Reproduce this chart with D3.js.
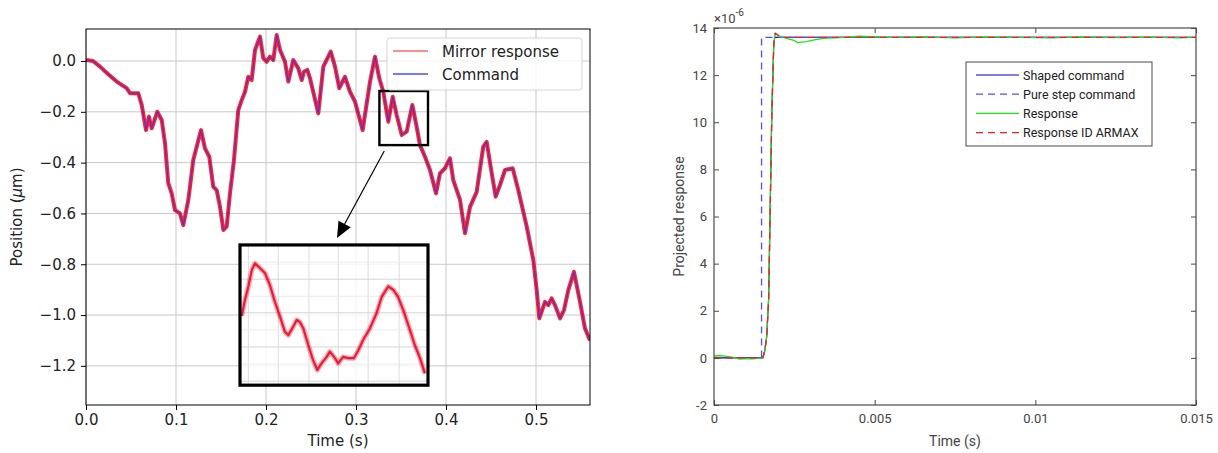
<!DOCTYPE html>
<html>
<head>
<meta charset="utf-8">
<script src="https://cdn.jsdelivr.net/npm/d3@7"></script>
<style>
body { margin: 0; background: #fff; }
</style>
</head>
<body>
<svg id="chart" width="1218" height="453"></svg>
<script>
// ---- left panel: mirror position tracking ----
var posTime = [
  0.000, 0.0078, 0.0156, 0.0244, 0.0341, 0.0452, 0.0489, 0.0581, 0.0619, 0.0667,
  0.0700, 0.0730, 0.0792, 0.0841, 0.0878, 0.0914, 0.0952, 0.0989, 0.1044, 0.1081,
  0.1137, 0.1192, 0.1278, 0.1322, 0.1370, 0.1414, 0.1452, 0.1489, 0.1526, 0.1563,
  0.1600, 0.1644, 0.1692, 0.1730, 0.1767, 0.1803, 0.1841, 0.1878, 0.1933, 0.1970,
  0.2008, 0.2044, 0.2081, 0.2119, 0.2156, 0.2211, 0.2248, 0.2303, 0.2359, 0.2397,
  0.2422, 0.2459, 0.2489, 0.2581, 0.2637, 0.2719, 0.2767, 0.2814, 0.2878, 0.2933,
  0.2989, 0.3074, 0.3156, 0.3211, 0.3259, 0.3303, 0.3359, 0.3408, 0.3452, 0.3508,
  0.3563, 0.3626, 0.3674, 0.3711, 0.3767, 0.3822, 0.3889, 0.3933, 0.3989, 0.4044,
  0.4081, 0.4156, 0.4211, 0.4267, 0.4341, 0.4414, 0.4452, 0.4508, 0.4552, 0.4600,
  0.4656, 0.4741, 0.4803, 0.4897, 0.4970, 0.5008, 0.5037, 0.5100, 0.5137, 0.5174,
  0.5211, 0.5267, 0.5311, 0.5359, 0.5422, 0.5489, 0.5544, 0.5600
];
var posValue = [
  0.004, 0.000, -0.022, -0.051, -0.081, -0.107, -0.127, -0.127, -0.173, -0.272,
  -0.219, -0.265, -0.200, -0.232, -0.324, -0.481, -0.521, -0.587, -0.600, -0.646,
  -0.547, -0.390, -0.272, -0.344, -0.377, -0.495, -0.508, -0.574, -0.665, -0.652,
  -0.521, -0.390, -0.193, -0.154, -0.121, -0.062, -0.075, 0.043, 0.096, 0.011,
  -0.003, 0.017, 0.004, 0.102, 0.043, -0.003, -0.081, 0.004, -0.029, -0.075,
  -0.042, -0.035, -0.068, -0.206, -0.022, 0.037, -0.022, -0.107, -0.062, -0.121,
  -0.160, -0.272, -0.081, 0.017, -0.068, -0.121, -0.239, -0.141, -0.213, -0.291,
  -0.278, -0.173, -0.259, -0.331, -0.377, -0.429, -0.521, -0.442, -0.422, -0.383,
  -0.469, -0.547, -0.678, -0.574, -0.515, -0.337, -0.318, -0.442, -0.534, -0.488,
  -0.429, -0.422, -0.508, -0.652, -0.783, -0.902, -1.013, -0.948, -0.961, -0.934,
  -0.961, -1.013, -0.980, -0.902, -0.830, -0.948, -1.052, -1.100
];
// zoomed inset (time window 0.326 - 0.380 s)
var insetTime = [
  0.3265, 0.3274, 0.3284, 0.3294, 0.3303, 0.3317, 0.3332, 0.3346, 0.3360, 0.3375,
  0.3389, 0.3399, 0.3413, 0.3423, 0.3432, 0.3442, 0.3456, 0.3470, 0.3482, 0.3494,
  0.3509, 0.3518, 0.3533, 0.3542, 0.3556, 0.3571, 0.3587, 0.3600, 0.3614, 0.3633,
  0.3652, 0.3667, 0.3686, 0.3700, 0.3714, 0.3729, 0.3748, 0.3762, 0.3777, 0.3791
];
var insetValue = [
  -0.226, -0.202, -0.181, -0.156, -0.146, -0.153, -0.161, -0.179, -0.204, -0.227,
  -0.250, -0.255, -0.242, -0.232, -0.235, -0.245, -0.270, -0.293, -0.308, -0.298,
  -0.288, -0.280, -0.290, -0.298, -0.288, -0.290, -0.290, -0.278, -0.262, -0.245,
  -0.222, -0.197, -0.181, -0.186, -0.197, -0.217, -0.247, -0.270, -0.290, -0.313
];
var leftXTicks = [0.0, 0.1, 0.2, 0.3, 0.4, 0.5];
var leftYTicks = [0.0, -0.2, -0.4, -0.6, -0.8, -1.0, -1.2];
var insetXGrid = [0.3284, 0.3370, 0.3458, 0.3542, 0.3628, 0.3717];
var insetYGrid = [-0.144, -0.170, -0.196, -0.221, -0.247, -0.273, -0.299, -0.325];
var leftLegend = ["Mirror response", "Command"];

// ---- right panel: step response ----
var stepTime = [0, 0.00148, 0.00148, 0.015];
var stepValue = [0, 0, 13.6, 13.6];
var shapedTime = [0, 0.00152, 0.00158, 0.00164, 0.00170, 0.00175, 0.00180, 0.00186, 0.00189, 0.015];
var shapedValue = [0, 0, 0.3, 0.9, 2.5, 6.5, 10.5, 13.3, 13.6, 13.6];
var respTime = [0, 0.0002, 0.0004, 0.0006, 0.0008, 0.0010, 0.0012, 0.00152, 0.00158, 0.00164,
  0.00170, 0.00175, 0.00180, 0.00186, 0.00191, 0.00204, 0.00225, 0.00246, 0.00261, 0.00288,
  0.00308, 0.00339, 0.00391, 0.00453, 0.0055, 0.0065, 0.0075, 0.0085, 0.0095, 0.0105,
  0.0115, 0.0125, 0.0135, 0.0145, 0.015];
var respValue = [0.08, 0.1, 0.06, 0.02, -0.05, -0.03, -0.04, 0, 0.3, 0.9,
  2.5, 6.5, 10.5, 13.3, 13.78, 13.66, 13.56, 13.49, 13.38, 13.42,
  13.49, 13.56, 13.59, 13.65, 13.6, 13.62, 13.58, 13.62, 13.6, 13.58,
  13.62, 13.59, 13.61, 13.58, 13.6];
var armaxTime = [0, 0.00152, 0.00158, 0.00164, 0.00170, 0.00175, 0.00180, 0.00186, 0.00190, 0.00200, 0.00215, 0.015];
var armaxValue = [0, 0, 0.3, 0.9, 2.4, 6.3, 10.3, 13.3, 13.78, 13.68, 13.6, 13.6];
var rightXTicks = [0, 0.005, 0.01, 0.015];
var rightYTicks = [-2, 0, 2, 4, 6, 8, 10, 12, 14];
var rightLegend = ["Shaped command", "Pure step command", "Response", "Response ID ARMAX"];

function zip(a, b) { return a.map(function(t, i) { return [t, b[i]]; }); }

var svg = d3.select("#chart");
var defs = svg.append("defs");

// ================= left panel =================
var L = {left: 86, right: 590, top: 29, bottom: 405};
var xL = d3.scaleLinear().domain([0, 0.56]).range([L.left, L.right]);
var yL = d3.scaleLinear().domain([-1.354, 0.126]).range([L.bottom, L.top]);
var fontL = "DejaVu Sans, sans-serif";

defs.append("clipPath").attr("id", "clipL").append("rect")
  .attr("x", L.left).attr("y", L.top).attr("width", L.right - L.left).attr("height", L.bottom - L.top);

var gL = svg.append("g");

gL.selectAll(".vgl").data(leftXTicks).enter().append("line")
  .attr("x1", function(d) { return xL(d); }).attr("x2", function(d) { return xL(d); })
  .attr("y1", L.top).attr("y2", L.bottom)
  .attr("stroke", "#c8c8c8").attr("stroke-width", 1);
gL.selectAll(".hgl").data(leftYTicks).enter().append("line")
  .attr("x1", L.left).attr("x2", L.right)
  .attr("y1", function(d) { return yL(d); }).attr("y2", function(d) { return yL(d); })
  .attr("stroke", "#c8c8c8").attr("stroke-width", 1);

var lineL = d3.line().x(function(d) { return xL(d[0]); }).y(function(d) { return yL(d[1]); });
var posData = zip(posTime, posValue);

var plotL = gL.append("g").attr("clip-path", "url(#clipL)");
plotL.append("path").datum(posData).attr("d", lineL)
  .attr("fill", "none").attr("stroke", "#ff0000").attr("stroke-width", 4)
  .attr("stroke-opacity", 0.85).attr("stroke-linejoin", "round");
plotL.append("path").datum(posData).attr("d", lineL)
  .attr("fill", "none").attr("stroke", "#3a2cff").attr("stroke-width", 1.1)
  .attr("stroke-opacity", 0.85).attr("stroke-linejoin", "round");

// small zoom box
gL.append("rect")
  .attr("x", xL(0.326)).attr("y", yL(-0.118))
  .attr("width", xL(0.380) - xL(0.326)).attr("height", yL(-0.331) - yL(-0.118))
  .attr("fill", "none").attr("stroke", "#000").attr("stroke-width", 2.4);

// arrow to inset
var a0 = [xL(0.3314), yL(-0.354)], a1 = [xL(0.2789), yL(-0.697)];
var ang = Math.atan2(a1[1] - a0[1], a1[0] - a0[0]);
var headLen = 16, headW = 7;
var base = [a1[0] - headLen * Math.cos(ang), a1[1] - headLen * Math.sin(ang)];
gL.append("line")
  .attr("x1", a0[0]).attr("y1", a0[1]).attr("x2", base[0]).attr("y2", base[1])
  .attr("stroke", "#000").attr("stroke-width", 1.2);
gL.append("path")
  .attr("d", "M" + a1[0] + "," + a1[1] +
    "L" + (base[0] + headW * Math.sin(ang)) + "," + (base[1] - headW * Math.cos(ang)) +
    "L" + (base[0] - headW * Math.sin(ang)) + "," + (base[1] + headW * Math.cos(ang)) + "Z")
  .attr("fill", "#000");

// inset
var ix0 = xL(0.1711), ix1 = xL(0.380), iy0 = yL(-0.724), iy1 = yL(-1.276);
var xI = d3.scaleLinear().domain([0.326, 0.380]).range([ix0, ix1]);
var yI = d3.scaleLinear().domain([-0.331, -0.118]).range([iy1, iy0]);
defs.append("clipPath").attr("id", "clipI").append("rect")
  .attr("x", ix0).attr("y", iy0).attr("width", ix1 - ix0).attr("height", iy1 - iy0);
var gI = gL.append("g");
gI.append("rect").attr("x", ix0).attr("y", iy0).attr("width", ix1 - ix0).attr("height", iy1 - iy0)
  .attr("fill", "#fff").attr("fill-opacity", 0.8);
gI.selectAll(".vgi").data(insetXGrid).enter().append("line")
  .attr("x1", function(d) { return xI(d); }).attr("x2", function(d) { return xI(d); })
  .attr("y1", iy0).attr("y2", iy1)
  .attr("stroke", "#dcdcdc").attr("stroke-width", 1);
gI.selectAll(".hgi").data(insetYGrid).enter().append("line")
  .attr("x1", ix0).attr("x2", ix1)
  .attr("y1", function(d) { return yI(d); }).attr("y2", function(d) { return yI(d); })
  .attr("stroke", function(d, i) { return i % 2 ? "#d4d4d4" : "#ececec"; }).attr("stroke-width", 1);
var lineI = d3.line().x(function(d) { return xI(d[0]); }).y(function(d) { return yI(d[1]); });
var insetData = zip(insetTime, insetValue);
var plotI = gI.append("g").attr("clip-path", "url(#clipI)");
plotI.append("path").datum(insetData).attr("d", lineI)
  .attr("fill", "none").attr("stroke", "#ff0000").attr("stroke-width", 5)
  .attr("stroke-opacity", 0.35).attr("stroke-linejoin", "round");
plotI.append("path").datum(insetData).attr("d", lineI)
  .attr("fill", "none").attr("stroke", "#ff0000").attr("stroke-width", 2.2)
  .attr("stroke-opacity", 0.85).attr("stroke-linejoin", "round");
plotI.append("path").datum(insetData).attr("d", lineI)
  .attr("fill", "none").attr("stroke", "#6a3cff").attr("stroke-width", 0.8)
  .attr("stroke-opacity", 0.6);
gI.append("rect").attr("x", ix0).attr("y", iy0).attr("width", ix1 - ix0).attr("height", iy1 - iy0)
  .attr("fill", "none").attr("stroke", "#000").attr("stroke-width", 3.2);

// axes
var axL = gL.append("g").attr("transform", "translate(0," + L.bottom + ")")
  .call(d3.axisBottom(xL).tickValues(leftXTicks).tickFormat(d3.format(".1f")).tickSize(5).tickPadding(4));
var ayL = gL.append("g").attr("transform", "translate(" + L.left + ",0)")
  .call(d3.axisLeft(yL).tickValues(leftYTicks).tickFormat(d3.format(".1f")).tickSize(5).tickPadding(5));
[axL, ayL].forEach(function(a) {
  a.select(".domain").remove();
  a.selectAll("text").attr("font-family", fontL).attr("font-size", 15).attr("fill", "#222");
  a.selectAll("line").attr("stroke", "#000");
});
gL.append("rect").attr("x", L.left).attr("y", L.top)
  .attr("width", L.right - L.left).attr("height", L.bottom - L.top)
  .attr("fill", "none").attr("stroke", "#000").attr("stroke-width", 1);

gL.append("text").attr("x", (L.left + L.right) / 2).attr("y", 446)
  .attr("text-anchor", "middle").attr("font-family", fontL).attr("font-size", 15).attr("fill", "#222")
  .text("Time (s)");
var yLab = gL.append("text").attr("transform", "translate(22," + ((L.top + L.bottom) / 2) + ") rotate(-90)")
  .attr("text-anchor", "middle").attr("font-family", fontL).attr("font-size", 15).attr("fill", "#222");
yLab.append("tspan").text("Position (");
yLab.append("tspan").attr("font-style", "italic").text("\u03bc");
yLab.append("tspan").text("m)");

// legend
var lgL = gL.append("g");
lgL.append("rect").attr("x", 387).attr("y", 38).attr("width", 195).attr("height", 52).attr("rx", 3)
  .attr("fill", "#fff").attr("fill-opacity", 0.8).attr("stroke", "#d6d6d6");
var lgColors = ["#ff6a6a", "#4a4aff"];
lgL.selectAll(".li").data(leftLegend).enter().append("line")
  .attr("x1", 393).attr("x2", 428)
  .attr("y1", function(d, i) { return 51 + i * 23; }).attr("y2", function(d, i) { return 51 + i * 23; })
  .attr("stroke", function(d, i) { return lgColors[i]; }).attr("stroke-width", 1.3);
lgL.selectAll(".lt").data(leftLegend).enter().append("text")
  .attr("x", 442).attr("y", function(d, i) { return 56.5 + i * 23; })
  .attr("font-family", fontL).attr("font-size", 15).attr("fill", "#222")
  .text(function(d) { return d; });

// ================= right panel =================
var R = {left: 714, right: 1196, top: 28, bottom: 405};
var xR = d3.scaleLinear().domain([0, 0.015]).range([R.left, R.right]);
var yR = d3.scaleLinear().domain([-2, 14]).range([R.bottom, R.top]);
var fontR = "Roboto, Liberation Sans, sans-serif";
var axisCol = "#4a4a4a";

defs.append("clipPath").attr("id", "clipR").append("rect")
  .attr("x", R.left).attr("y", R.top).attr("width", R.right - R.left).attr("height", R.bottom - R.top);

var gR = svg.append("g");
var lineR = d3.line().x(function(d) { return xR(d[0]); }).y(function(d) { return yR(d[1]); });
var plotR = gR.append("g").attr("clip-path", "url(#clipR)");

var seriesR = [
  {data: zip(shapedTime, shapedValue), color: "#0000d0", dash: null, w: 1.2},
  {data: zip(stepTime, stepValue), color: "#4f4fff", dash: "7,5", w: 1.3},
  {data: zip(respTime, respValue), color: "#19e619", dash: null, w: 1.3},
  {data: zip(armaxTime, armaxValue), color: "#ff1a1a", dash: "7,5", w: 1.3}
];
seriesR.forEach(function(s) {
  plotR.append("path").datum(s.data).attr("d", lineR)
    .attr("fill", "none").attr("stroke", s.color).attr("stroke-width", s.w)
    .attr("stroke-dasharray", s.dash).attr("stroke-linejoin", "round");
});

var axRb = gR.append("g").attr("transform", "translate(0," + R.bottom + ")")
  .call(d3.axisBottom(xR).tickValues(rightXTicks).tickFormat(function(d) { return String(d); }).tickSize(-5).tickPadding(9));
var axRt = gR.append("g").attr("transform", "translate(0," + R.top + ")")
  .call(d3.axisTop(xR).tickValues(rightXTicks).tickFormat("").tickSize(-5));
var ayRl = gR.append("g").attr("transform", "translate(" + R.left + ",0)")
  .call(d3.axisLeft(yR).tickValues(rightYTicks).tickFormat(function(d) { return String(d); }).tickSize(-5).tickPadding(7));
var ayRr = gR.append("g").attr("transform", "translate(" + R.right + ",0)")
  .call(d3.axisRight(yR).tickValues(rightYTicks).tickFormat("").tickSize(-5));
[axRb, axRt, ayRl, ayRr].forEach(function(a) {
  a.select(".domain").remove();
  a.selectAll("line").attr("stroke", axisCol);
  a.selectAll("text").attr("font-family", fontR).attr("font-size", 13).attr("fill", "#444");
});
gR.append("rect").attr("x", R.left).attr("y", R.top)
  .attr("width", R.right - R.left).attr("height", R.bottom - R.top)
  .attr("fill", "none").attr("stroke", axisCol).attr("stroke-width", 1.2);

var expo = gR.append("text").attr("x", R.left).attr("y", 23)
  .attr("font-family", fontR).attr("font-size", 13).attr("fill", "#444");
expo.append("tspan").text("\u00d710");
expo.append("tspan").attr("dy", -7).attr("font-size", 10).text("-6");

gR.append("text").attr("x", (R.left + R.right) / 2).attr("y", 446)
  .attr("text-anchor", "middle").attr("font-family", fontR).attr("font-size", 14).attr("fill", "#444")
  .text("Time (s)");
gR.append("text").attr("transform", "translate(684," + ((R.top + R.bottom) / 2) + ") rotate(-90)")
  .attr("text-anchor", "middle").attr("font-family", fontR).attr("font-size", 14).attr("fill", "#444")
  .text("Projected response");

// legend
var lgR = gR.append("g");
lgR.append("rect").attr("x", 966).attr("y", 62).attr("width", 186).attr("height", 84)
  .attr("fill", "#fff").attr("stroke", "#4a4a4a").attr("stroke-width", 1);
lgR.selectAll(".li").data(rightLegend).enter().append("line")
  .attr("x1", 976).attr("x2", 1019)
  .attr("y1", function(d, i) { return 75 + i * 19.2; }).attr("y2", function(d, i) { return 75 + i * 19.2; })
  .attr("stroke", function(d, i) { return seriesR[i].color; })
  .attr("stroke-dasharray", function(d, i) { return seriesR[i].dash; })
  .attr("stroke-width", 1.2);
lgR.selectAll(".lt").data(rightLegend).enter().append("text")
  .attr("x", 1023).attr("y", function(d, i) { return 79.5 + i * 19.2; })
  .attr("font-family", fontR).attr("font-size", 12.5).attr("fill", "#222")
  .text(function(d) { return d; });
</script>
</body>
</html>
